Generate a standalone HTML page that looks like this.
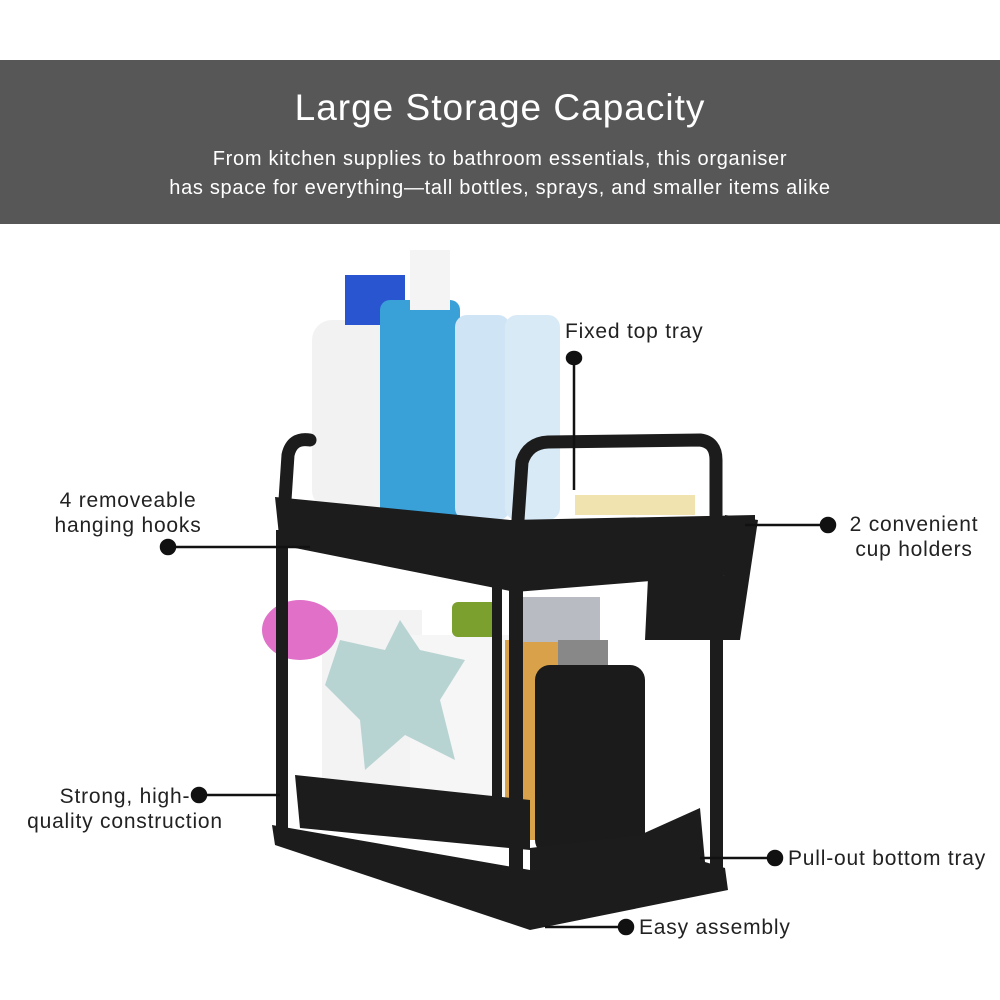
<!DOCTYPE html>
<html><head><meta charset="utf-8"><style>
body{margin:0;width:1000px;height:1000px;background:#fff;position:relative;overflow:hidden;font-family:"Liberation Sans",sans-serif;color:#222}
.band{position:absolute;left:0;top:60px;width:1000px;height:164px;background:#575757;color:#fff;text-align:center}
.band h1{margin:0;position:absolute;width:100%;font-weight:400;font-size:37px;letter-spacing:1px;top:27px}
.band p{margin:0;position:absolute;width:100%;top:85px;font-size:20px;letter-spacing:0.7px;line-height:29px}
.l{position:absolute;font-size:21px;letter-spacing:0.8px;line-height:25px;color:#222;white-space:nowrap}
svg{position:absolute;left:0;top:0}
</style></head><body>
<div class="band"><h1>Large Storage Capacity</h1><p>From kitchen supplies to bathroom essentials, this organiser<br>has space for everything—tall bottles, sprays, and smaller items alike</p></div>
<svg width="1000" height="1000" viewBox="0 0 1000 1000">
<rect x="312" y="320" width="78" height="190" rx="20" fill="#f2f2f2"/>
<rect x="345" y="275" width="60" height="50" fill="#2a55d0"/>
<rect x="380" y="300" width="80" height="220" rx="10" fill="#3aa0d8"/>
<rect x="410" y="250" width="40" height="60" fill="#f4f4f4"/>
<rect x="455" y="315" width="55" height="205" rx="12" fill="#cfe4f5"/>
<rect x="505" y="315" width="55" height="205" rx="12" fill="#d9eaf7"/>
<rect x="575" y="495" width="120" height="20" fill="#f1e3b0"/>
<rect x="322" y="610" width="100" height="220" fill="#f3f3f3"/>
<rect x="410" y="635" width="100" height="200" fill="#f6f6f6"/>
<rect x="452" y="602" width="50" height="35" rx="6" fill="#7ba02e"/>
<rect x="505" y="640" width="60" height="200" fill="#d9a24a"/>
<rect x="520" y="597" width="80" height="45" fill="#b8bcc2"/>
<rect x="558" y="640" width="50" height="30" fill="#888"/>
<polygon points="340,640 385,650 400,620 420,650 465,660 440,700 455,760 405,735 365,770 360,720 325,685" fill="#b8d4d2"/>
<ellipse cx="300" cy="630" rx="38" ry="30" fill="#e070c8"/>
<rect x="535" y="665" width="110" height="190" rx="15" fill="#1b1b1b"/>
<g fill="none" stroke="#1c1c1c" stroke-width="13" stroke-linecap="round">
<path d="M285 500 L288 455 Q292 437 310 440"/>
<path d="M518 520 L522 462 Q528 443 548 442 L700 440 Q716 442 716 460 L716 515"/>
</g>
<g fill="#1c1c1c">
<rect x="276" y="530" width="12" height="300"/>
<rect x="509" y="580" width="14" height="330"/>
<rect x="710" y="565" width="13" height="320"/>
<rect x="492" y="580" width="10" height="240"/>
<polygon points="275,497 510,520 755,515 755,522 725,575 515,592 280,545"/>
<polygon points="725,515 758,520 740,640 645,640 648,578 725,575"/>
<polygon points="295,775 530,800 530,850 300,828"/>
<polygon points="272,825 530,870 530,930 275,845"/>
<polygon points="530,848 640,835 700,808 705,862 725,868 728,890 530,930"/>
<rect x="306" y="505" width="8" height="40"/><rect x="362" y="510" width="8" height="40"/><rect x="406" y="515" width="8" height="40"/><rect x="462" y="522" width="8" height="45"/>
</g>
<g stroke="#111" stroke-width="2.5" fill="#111">
<line x1="574" y1="358" x2="574" y2="490"/><ellipse cx="574" cy="358" rx="7" ry="6"/>
<line x1="168" y1="547" x2="310" y2="547"/><circle cx="168" cy="547" r="7"/>
<line x1="745" y1="525" x2="828" y2="525"/><circle cx="828" cy="525" r="7"/>
<line x1="199" y1="795" x2="280" y2="795"/><circle cx="199" cy="795" r="7"/>
<line x1="700" y1="858" x2="775" y2="858"/><circle cx="775" cy="858" r="7"/>
<line x1="545" y1="927" x2="626" y2="927"/><circle cx="626" cy="927" r="7"/>
</g>
</svg>
<div class="l" style="left:565px;top:319px">Fixed top tray</div>
<div class="l" style="left:40px;top:488px;width:176px;text-align:center">4 removeable<br>hanging hooks</div>
<div class="l" style="left:846px;top:512px;width:136px;text-align:center">2 convenient<br>cup holders</div>
<div class="l" style="left:20px;top:784px;width:210px;text-align:center">Strong, high-<br>quality construction</div>
<div class="l" style="left:788px;top:846px">Pull-out bottom tray</div>
<div class="l" style="left:639px;top:915px">Easy assembly</div>
</body></html>
